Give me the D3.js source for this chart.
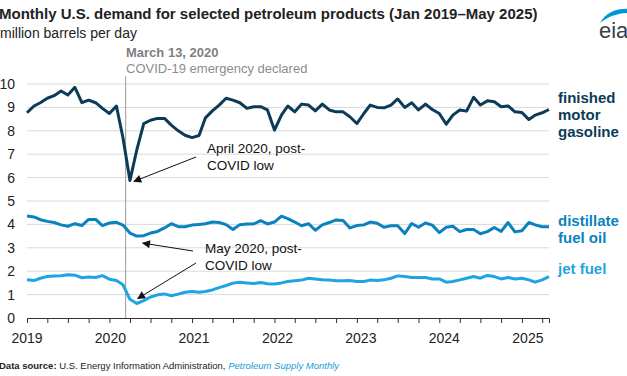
<!DOCTYPE html>
<html>
<head>
<meta charset="utf-8">
<script src="https://cdn.jsdelivr.net/npm/d3@7"></script>
<style>
  body { margin: 0; background: #fff; }
  svg { display: block; font-family: Arial, "Liberation Sans", sans-serif; }
</style>
</head>
<body>
<div id="chart"></div>
<script>
// monthly demand, million barrels per day, Jan 2019 - May 2025
const gasoline = [
  8.77, 9.06, 9.20, 9.39, 9.50, 9.70, 9.53, 9.86, 9.20, 9.31, 9.20, 8.96,
  8.74, 9.06, 7.70, 5.88, 7.17, 8.31, 8.45, 8.53, 8.53, 8.24, 8.00, 7.81,
  7.71, 7.80, 8.55, 8.85, 9.10, 9.39, 9.31, 9.20, 8.96, 9.03, 9.03, 8.89,
  8.03, 8.67, 9.06, 8.81, 9.14, 9.10, 8.85, 9.14, 8.89, 8.81, 8.81, 8.60,
  8.31, 8.74, 9.10, 9.00, 8.98, 9.10, 9.36, 9.00, 9.20, 8.89, 9.14, 8.91,
  8.74, 8.28, 8.67, 8.89, 8.84, 9.43, 9.10, 9.28, 9.24, 9.03, 9.06, 8.81,
  8.78, 8.48, 8.67, 8.77, 8.91
];
const distillate = [
  4.36, 4.32, 4.20, 4.13, 4.08, 3.98, 3.92, 4.03, 3.95, 4.21, 4.21, 3.95,
  4.06, 4.09, 3.97, 3.63, 3.50, 3.52, 3.63, 3.70, 3.85, 4.03, 3.90, 3.90,
  3.97, 4.00, 4.03, 4.10, 4.08, 3.99, 3.78, 3.99, 4.02, 4.02, 4.16, 4.02,
  4.10, 4.35, 4.25, 4.10, 3.94, 4.03, 3.75, 3.98, 4.08, 4.19, 4.17, 3.85,
  3.95, 3.98, 4.10, 4.05, 3.88, 3.94, 3.94, 3.61, 4.04, 3.88, 4.06, 3.97,
  3.65, 3.88, 3.92, 3.69, 3.78, 3.78, 3.60, 3.69, 3.87, 3.70, 4.08, 3.68,
  3.73, 4.08, 3.98, 3.90, 3.90
];
const jetFuel = [
  1.63, 1.60, 1.70, 1.77, 1.79, 1.81, 1.85, 1.83, 1.72, 1.75, 1.73, 1.81,
  1.66, 1.60, 1.42, 0.80, 0.62, 0.74, 0.90, 0.99, 1.03, 0.95, 1.02, 1.10,
  1.13, 1.10, 1.13, 1.20, 1.30, 1.39, 1.49, 1.53, 1.50, 1.47, 1.52, 1.46,
  1.45, 1.50, 1.56, 1.59, 1.62, 1.70, 1.67, 1.63, 1.62, 1.59, 1.59, 1.60,
  1.56, 1.56, 1.62, 1.60, 1.63, 1.70, 1.80, 1.77, 1.73, 1.73, 1.73, 1.67,
  1.67, 1.53, 1.56, 1.63, 1.70, 1.77, 1.70, 1.82, 1.77, 1.67, 1.73, 1.67,
  1.70, 1.63, 1.53, 1.63, 1.77
];
const yTicks = [0, 1, 2, 3, 4, 5, 6, 7, 8, 9, 10];
const yearLabels = ["2019", "2020", "2021", "2022", "2023", "2024", "2025"];
const covidDate = new Date(2020, 2, 13);

const months = d3.timeMonth.range(new Date(2019, 0, 1), new Date(2025, 5, 1));

const W = 627, H = 376;
const plot = { left: 27, right: 549, top: 84, bottom: 318 };

const x = d3.scaleTime()
  .domain([months[0], months[months.length - 1]])
  .range([plot.left, plot.right]);
const y = d3.scaleLinear()
  .domain([0, 10])
  .range([plot.bottom, plot.top]);

const svg = d3.select("#chart").append("svg")
  .attr("width", W)
  .attr("height", H);

// arrow head
svg.append("defs").append("marker")
  .attr("id", "arrow")
  .attr("viewBox", "0 0 10 10")
  .attr("refX", 9).attr("refY", 5)
  .attr("markerWidth", 10).attr("markerHeight", 8)
  .attr("markerUnits", "userSpaceOnUse")
  .attr("orient", "auto")
  .append("path")
  .attr("d", "M0,0L10,5L0,10z")
  .attr("fill", "#111");

// titulo
svg.append("text")
  .attr("x", -1).attr("y", 19)
  .style("font-size", "15px").style("font-weight", "bold").attr("fill", "#222")
  .text("Monthly U.S. demand for selected petroleum products (Jan 2019\u2013May 2025)");
svg.append("text")
  .attr("x", 0).attr("y", 38)
  .style("font-size", "14px").attr("fill", "#222")
  .text("million barrels per day");

// logo eia
svg.append("path")
  .attr("d", "M600,23 C606,12 618,8 630,9 L630,13 C619,13 609,16 600,23 Z")
  .attr("fill", "#0096d7");
svg.append("text")
  .attr("x", 599).attr("y", 38)
  .style("font-size", "22px").attr("fill", "#3a3f44")
  .text("eia");

// gridlines
svg.append("g")
  .selectAll("line")
  .data(yTicks.filter(d => d > 0))
  .join("line")
  .attr("x1", plot.left).attr("x2", plot.right)
  .attr("y1", d => y(d)).attr("y2", d => y(d))
  .attr("stroke", "#d9d9d9").attr("stroke-width", 1);

// y axis labels
const yAxis = svg.append("g")
  .attr("transform", `translate(${plot.left},0)`)
  .call(d3.axisLeft(y).tickValues(yTicks).tickSize(0).tickPadding(12));
yAxis.select(".domain").remove();
yAxis.selectAll("text")
  .style("font-size", "14px").style("font-family", "Arial, 'Liberation Sans', sans-serif")
  .attr("fill", "#222");

// x axis with quarterly ticks
const xAxis = svg.append("g")
  .attr("transform", `translate(0,${plot.bottom})`)
  .call(d3.axisBottom(x)
    .ticks(d3.timeMonth.every(3))
    .tickSize(5)
    .tickSizeOuter(5)
    .tickFormat(""));
xAxis.select(".domain").attr("stroke", "#333");
xAxis.selectAll(".tick line").attr("stroke", "#333");

svg.append("g")
  .selectAll("text")
  .data(yearLabels)
  .join("text")
  .attr("x", d => x(new Date(+d, 0, 1)) + (+d - 2019))
  .attr("y", 343)
  .attr("text-anchor", "middle")
  .style("font-size", "14px").attr("fill", "#222")
  .text(d => d);

// covid line
svg.append("line")
  .attr("x1", x(covidDate)).attr("x2", x(covidDate))
  .attr("y1", 76).attr("y2", plot.bottom)
  .attr("stroke", "#9a9a9a").attr("stroke-width", 1);
svg.append("text")
  .attr("x", 126).attr("y", 57)
  .style("font-size", "13px").style("font-weight", "bold").attr("fill", "#7f7f7f")
  .text("March 13, 2020");
svg.append("text")
  .attr("x", 126).attr("y", 73)
  .style("font-size", "13px").attr("fill", "#8c8c8c")
  .text("COVID-19 emergency declared");

// series lines
const series = [
  { values: gasoline, color: "#0c3b57", label: ["finished", "motor", "gasoline"], ly: 103 },
  { values: distillate, color: "#0a82c0", label: ["distillate", "fuel oil"], ly: 226 },
  { values: jetFuel, color: "#1fa4e3", label: ["jet fuel"], ly: 274 }
];

const line = d3.line()
  .x((d, i) => x(months[i]))
  .y(d => y(d));

series.forEach(s => {
  svg.append("path")
    .datum(s.values)
    .attr("fill", "none")
    .attr("stroke", s.color)
    .attr("stroke-width", 3)
    .attr("stroke-linejoin", "round")
    .attr("d", line);

  svg.append("text")
    .attr("x", 558).attr("y", s.ly)
    .style("font-size", "15px").style("font-weight", "bold").attr("fill", s.color)
    .selectAll("tspan")
    .data(s.label)
    .join("tspan")
    .attr("x", 558)
    .attr("dy", (d, i) => i === 0 ? 0 : 17)
    .text(d => d);
});

// annotations
function note(tx, ty, lines) {
  svg.append("text")
    .attr("x", tx).attr("y", ty)
    .style("font-size", "13.5px").attr("fill", "#111")
    .selectAll("tspan")
    .data(lines)
    .join("tspan")
    .attr("x", tx)
    .attr("dy", (d, i) => i === 0 ? 0 : 16.5)
    .text(d => d);
}
function arrow(x1, y1, x2, y2) {
  svg.append("line")
    .attr("x1", x1).attr("y1", y1).attr("x2", x2).attr("y2", y2)
    .attr("stroke", "#111").attr("stroke-width", 1)
    .attr("marker-end", "url(#arrow)");
}

note(207, 153, ["April 2020, post-", "COVID low"]);
arrow(196, 157, x(months[15]) + 4, y(gasoline[15]) + 1);

note(205, 253, ["May 2020, post-", "COVID low"]);
arrow(193, 251, x(months[16]) + 6, y(distillate[16]) + 7);
arrow(196, 263, x(months[16]) + 1, y(jetFuel[16]) - 5);

// fonte
const src = svg.append("text")
  .attr("x", -1).attr("y", 369)
  .style("font-size", "9.5px")
  .attr("fill", "#222");
src.append("tspan").style("font-weight", "bold").text("Data source: ");
src.append("tspan").text("U.S. Energy Information Administration, ");
src.append("tspan").style("font-style", "italic").attr("fill", "#1a9ad6").text("Petroleum Supply Monthly");
</script>
</body>
</html>
